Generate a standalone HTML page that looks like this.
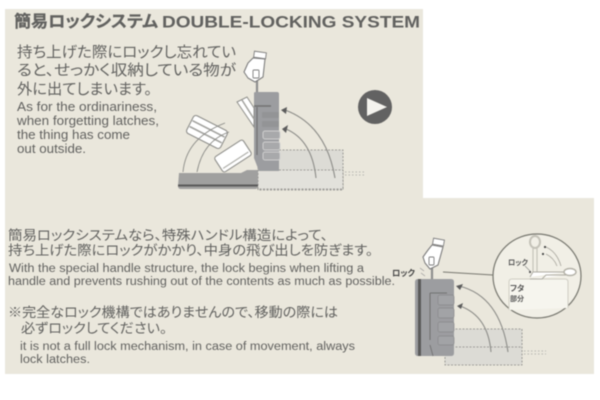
<!DOCTYPE html>
<html><head><meta charset="utf-8"><style>
html,body{margin:0;padding:0;background:#fff}
svg{display:block;filter:blur(0.6px)}
.j{font-family:"Liberation Sans","Noto Sans CJK JP",sans-serif;fill:#626260;font-feature-settings:"palt"}
.e{font-family:"Liberation Sans",sans-serif;fill:#626260}
</style></head><body>
<svg width="600" height="400" viewBox="0 0 600 400" xmlns="http://www.w3.org/2000/svg">
<rect width="600" height="400" fill="#fff"/>
<rect x="5" y="9" width="418" height="190" fill="#eae7dc"/>
<rect x="5" y="198" width="589" height="176" fill="#eae7dc"/>

<text class="j" x="14" y="27" font-size="16.5" font-weight="700" stroke="#626260" stroke-width=".25" textLength="144" lengthAdjust="spacingAndGlyphs">簡易ロックシステム</text>
<text class="e" x="162" y="27.5" font-size="17" font-weight="700" textLength="258" lengthAdjust="spacingAndGlyphs">DOUBLE-LOCKING SYSTEM</text>
<text class="j" x="17" y="57" font-size="15" textLength="219" lengthAdjust="spacingAndGlyphs">持ち上げた際にロックし忘れてい</text>
<text class="j" x="17" y="75" font-size="15" textLength="219" lengthAdjust="spacingAndGlyphs">ると、せっかく収納している物が</text>
<text class="j" x="17" y="94" font-size="15" textLength="135" lengthAdjust="spacingAndGlyphs">外に出てしまいます。</text>
<text class="e" x="17" y="111" font-size="13" textLength="140" lengthAdjust="spacingAndGlyphs">As for the ordinariness,</text>
<text class="e" x="17" y="125" font-size="13" textLength="142" lengthAdjust="spacingAndGlyphs">when forgetting latches,</text>
<text class="e" x="17" y="139" font-size="13" textLength="113" lengthAdjust="spacingAndGlyphs">the thing has come</text>
<text class="e" x="17" y="153" font-size="13" textLength="69" lengthAdjust="spacingAndGlyphs">out outside.</text>

<text class="j" x="8" y="240" font-size="13.5" textLength="320" lengthAdjust="spacingAndGlyphs">簡易ロックシステムなら、特殊ハンドル構造によって、</text>
<text class="j" x="8" y="255" font-size="13.5" textLength="365" lengthAdjust="spacingAndGlyphs">持ち上げた際にロックがかかり、中身の飛び出しを防ぎます。</text>
<text class="e" x="9" y="272" font-size="11.5" textLength="355" lengthAdjust="spacingAndGlyphs">With the special handle structure, the lock begins when lifting a</text>
<text class="e" x="8" y="285" font-size="11.5" textLength="387" lengthAdjust="spacingAndGlyphs">handle and prevents rushing out of the contents as much as possible.</text>
<text class="j" x="8" y="317" font-size="13.5" textLength="330" lengthAdjust="spacingAndGlyphs">※完全なロック機構ではありませんので、移動の際には</text>
<text class="j" x="21" y="333" font-size="13.5" textLength="146" lengthAdjust="spacingAndGlyphs">必ずロックしてください。</text>
<text class="e" x="20" y="350" font-size="11.5" textLength="335" lengthAdjust="spacingAndGlyphs">it is not a full lock mechanism, in case of movement, always</text>
<text class="e" x="20" y="363" font-size="11.5" textLength="70" lengthAdjust="spacingAndGlyphs">lock latches.</text>

<!-- play button -->
<circle cx="375" cy="107" r="17" fill="#626262"/>
<path d="M367 98 L387 107 L367 116 Z" fill="#f4f3ee"/>

<!-- top diagram -->
<rect x="258" y="150" width="85" height="40" fill="#dcdbd5" stroke="#8a8a86" stroke-width=".8" stroke-dasharray="2 1.5"/>
<rect x="258" y="170" width="85" height="19" fill="#e2e1db" stroke="#8a8a86" stroke-width=".8" stroke-dasharray="2 1.5"/>
<path d="M345 172 H366 M345 175 H366" stroke="#b5b5b0" stroke-width="1" stroke-dasharray="1.5 2" fill="none"/>
<path d="M179 173 H241 L247 170 H258 V186 Q258 189 255 189 H181 Q178 189 178 186 Z" fill="#a0a09f"/>
<rect x="178" y="184.5" width="80" height="2" fill="#5a5a5a"/>
<path d="M254 93 Q254 92 256 92 H277 Q279 92 279 94 V171 H259 L254 158 Z" fill="#9c9da0"/>
<path d="M254 106 H271" stroke="#727272" stroke-width="1.4"/>
<path d="M257 107 V155" stroke="#727272" stroke-width="1.2"/>
<g fill="#a8a9ab" stroke="#cfcfcf" stroke-width="1">
<rect x="263" y="131" width="17" height="8" rx="2"/>
<rect x="263" y="142" width="17" height="8" rx="2"/>
<rect x="263" y="152" width="17" height="8" rx="2"/>
</g>
<rect x="262" y="112" width="17" height="6" rx="1" fill="#939496"/>
<rect x="262" y="121" width="17" height="6" rx="1" fill="#939496"/>
<!-- luggage items -->
<g transform="rotate(27 207 132)"><rect x="188" y="122" width="38" height="20" rx="3" fill="#fff" stroke="#8f8f8b" stroke-width="1.1"/><path d="M189 128.5H225M189 135H225" stroke="#a3a39f" stroke-width="1.6"/></g>
<g transform="rotate(-33 233 156)"><rect x="216" y="147" width="34" height="18" rx="2.5" fill="#fff" stroke="#8f8f8b" stroke-width="1.1"/><path d="M218 161H248" stroke="#b0b0ab" stroke-width="1.2"/></g>
<path d="M237 102 L247 97 L254 108 L254 127 Z" fill="#fff" stroke="#8f8f8b"/><path d="M242 100 L254 119" stroke="#a3a39f" stroke-width="1.5"/>
<!-- guide arcs -->
<g fill="none" stroke="#8c8c88" stroke-width=".9">
<path d="M183 172 Q186 138 225 123 M197 172 Q203 141 229 132"/>
<path d="M316 178 Q312 140 286 129" stroke-width="1.1"/>
<path d="M335 178 Q326 125 285 110" stroke-width="1.1"/>
</g>
<path d="M282 129 L288 125 L286 133 Z M281 110 L287 107 L286 114 Z" fill="#5c5c5c"/>
<!-- hand top -->
<path d="M257 80 V92" stroke="#8e8e8e" stroke-width="2.2"/>
<path d="M253 58 L265 59 L263 77 L255 82 L248 78 L244 72 L248 63 Z" fill="#fff" stroke="#7d7d7d" stroke-width="1.1" stroke-linejoin="round"/>
<rect x="254" y="52" width="12" height="6" fill="#fff" stroke="#7d7d7d" stroke-width=".9" transform="rotate(8 260 55)"/>
<rect x="253" y="70" width="6" height="8" rx="1" fill="none" stroke="#7d7d7d" stroke-width=".9"/>

<!-- bottom diagram -->
<rect x="445" y="329" width="77" height="36" fill="#dcdbd5" stroke="#8a8a86" stroke-width=".8" stroke-dasharray="2 1.5"/>
<path d="M445 347 H522" stroke="#8a8a86" stroke-width=".8" stroke-dasharray="2 1.5"/>
<path d="M524 351 H546 M524 354 H546" stroke="#b5b5b0" stroke-width="1" stroke-dasharray="1.5 2"/>
<path d="M418 279 H451 Q454 279 454 282 V353 Q454 356 451 356 H418 Q415 356 415 353 V282 Q415 279 418 279 Z" fill="#9c9da0"/>
<rect x="418" y="279" width="3" height="77" fill="#5a5a5a"/>
<path d="M430 293 H447 M430 293 V340" stroke="#727272" stroke-width="1.1" fill="none"/>
<path d="M430 345 L433 356" stroke="#727272" stroke-width=".9"/>
<g fill="#a2a3a6" stroke="#88888a" stroke-width=".7">
<rect x="438" y="295" width="16" height="10" rx="2"/>
<rect x="438" y="308" width="16" height="10" rx="2"/>
<rect x="438" y="322" width="16" height="10" rx="2"/>
<rect x="438" y="336" width="16" height="9" rx="2"/>
</g>
<g fill="none" stroke="#8c8c88" stroke-width="1.1">
<path d="M491 352 Q488 316 460 306"/>
<path d="M508 352 Q500 296 459 286"/>
</g>
<path d="M457 306 L463 303 L461 309 Z M456 286 L463 284 L460 290 Z" fill="#5c5c5c"/>
<!-- hand bottom -->
<path d="M432 266 V279" stroke="#8e8e8e" stroke-width="2.2"/>
<path d="M432 245 L443 247 L438 265 L430 269 L425 263 L423 257 L428 250 Z" fill="#fff" stroke="#7d7d7d" stroke-width="1.1" stroke-linejoin="round"/>
<rect x="433" y="239" width="11" height="6" fill="#fff" stroke="#7d7d7d" stroke-width=".9" transform="rotate(10 438 242)"/>
<rect x="429" y="257" width="5" height="8" rx="1" fill="none" stroke="#7d7d7d" stroke-width=".9"/>
<text class="j" x="392" y="276" font-size="8.5" font-weight="700" textLength="23" lengthAdjust="spacingAndGlyphs" style="fill:#444">ロック</text>
<path d="M421 273 L425 276 M420 268 L424 271" stroke="#999" stroke-width=".7"/>
<!-- callout -->
<path d="M443 272 L493 275" stroke="#77776f" stroke-width="1"/>
<ellipse cx="537" cy="276" rx="44" ry="42" fill="#f1efe6" stroke="#77776f" stroke-width="1.2"/>
<path d="M509 310 V282 Q509 279 512 279 H565 Q568 279 568 282 V308" fill="#f6f5ee" stroke="#cfcdc3" stroke-width="1"/>
<ellipse cx="535" cy="242" rx="5" ry="6" fill="none" stroke="#c4c2b8" stroke-width="2"/>
<path d="M533 248 V272 M537 248 V272" stroke="#c4c2b8" stroke-width="1.2"/>
<path d="M530 277 L533 272 H566 M530 279 H542 L546 275 H566" stroke="#aeaca3" stroke-width="1" fill="#fff"/>
<ellipse cx="570" cy="272" rx="6" ry="3.5" fill="#fff" stroke="#b3b1a7" stroke-width="1.4"/>
<path d="M546 247 Q557 252 561 266 M546 254 Q554 258 557 266" fill="none" stroke="#aeaca3" stroke-width=".9"/>
<circle cx="545" cy="247" r="1.1" fill="#444"/><circle cx="543" cy="254" r="1.1" fill="#444"/><circle cx="530" cy="272" r="1.1" fill="#555"/>
<path d="M525 266 L530 271" stroke="#888" stroke-width=".6"/>
<text class="j" x="508" y="265" font-size="7.5" font-weight="700" textLength="20" lengthAdjust="spacingAndGlyphs" style="fill:#555">ロック</text>
<text class="j" x="510" y="291" font-size="8" font-weight="700" style="fill:#555">フタ</text>
<text class="j" x="510" y="301" font-size="7" font-weight="700" style="fill:#555">部分</text>
</svg>
</body></html>
